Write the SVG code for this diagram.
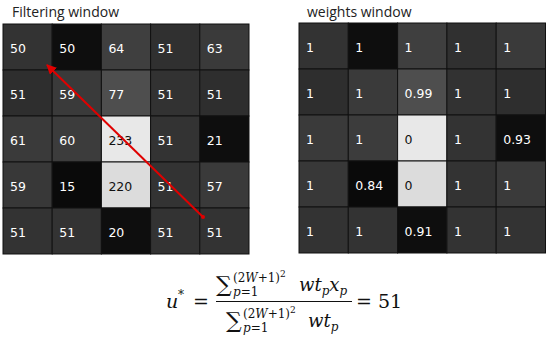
<svg xmlns="http://www.w3.org/2000/svg" width="550" height="342" viewBox="0 0 550 342">
<defs>
<style>
.c{stroke:#111;stroke-width:1}
.t{font-family:"DejaVu Sans",sans-serif;font-size:12.5px;fill:#fff}
.d{fill:#111}
.title{font-family:"Open Sans","Noto Sans",sans-serif;font-size:14px;fill:#222}
.m{font-family:"DejaVu Serif","Liberation Serif",serif;fill:#111}
.i{font-style:italic}
</style>
<marker id="ah" viewBox="0 0 10 10" refX="9" refY="5" markerWidth="5" markerHeight="5" orient="auto"><path d="M0,0 L10,5 L0,10 z" fill="#e00000"/></marker>
</defs>
<rect width="550" height="342" fill="#fff"/>
<text class="title" x="12" y="17">Filtering window</text>
<text class="title" x="307" y="17">weights window</text>

<g id="filtering-window">
<rect class="c" x="3" y="24" width="49.2" height="46" fill="#333"/>
<rect class="c" x="52.2" y="24" width="49.2" height="46" fill="#0e0e0e"/>
<rect class="c" x="101.4" y="24" width="49.2" height="46" fill="#3f3f3f"/>
<rect class="c" x="150.6" y="24" width="49.2" height="46" fill="#303030"/>
<rect class="c" x="199.8" y="24" width="49.2" height="46" fill="#3a3a3a"/>
<rect class="c" x="3" y="70" width="49.2" height="46" fill="#2e2e2e"/>
<rect class="c" x="52.2" y="70" width="49.2" height="46" fill="#3a3a3a"/>
<rect class="c" x="101.4" y="70" width="49.2" height="46" fill="#4e4e4e"/>
<rect class="c" x="150.6" y="70" width="49.2" height="46" fill="#323232"/>
<rect class="c" x="199.8" y="70" width="49.2" height="46" fill="#2e2e2e"/>
<rect class="c" x="3" y="116" width="49.2" height="46" fill="#3a3a3a"/>
<rect class="c" x="52.2" y="116" width="49.2" height="46" fill="#3c3c3c"/>
<rect class="c" x="101.4" y="116" width="49.2" height="46" fill="#e8e8e8"/>
<rect class="c" x="150.6" y="116" width="49.2" height="46" fill="#333"/>
<rect class="c" x="199.8" y="116" width="49.2" height="46" fill="#0e0e0e"/>
<rect class="c" x="3" y="162" width="49.2" height="46" fill="#383838"/>
<rect class="c" x="52.2" y="162" width="49.2" height="46" fill="#0a0a0a"/>
<rect class="c" x="101.4" y="162" width="49.2" height="46" fill="#dcdcdc"/>
<rect class="c" x="150.6" y="162" width="49.2" height="46" fill="#333"/>
<rect class="c" x="199.8" y="162" width="49.2" height="46" fill="#3a3a3a"/>
<rect class="c" x="3" y="208" width="49.2" height="46" fill="#333"/>
<rect class="c" x="52.2" y="208" width="49.2" height="46" fill="#333"/>
<rect class="c" x="101.4" y="208" width="49.2" height="46" fill="#0e0e0e"/>
<rect class="c" x="150.6" y="208" width="49.2" height="46" fill="#333"/>
<rect class="c" x="199.8" y="208" width="49.2" height="46" fill="#333"/>
<text class="t" x="10" y="52.5">50</text>
<text class="t" x="59.2" y="52.5">50</text>
<text class="t" x="108.4" y="52.5">64</text>
<text class="t" x="157.6" y="52.5">51</text>
<text class="t" x="206.8" y="52.5">63</text>
<text class="t" x="10" y="98.5">51</text>
<text class="t" x="59.2" y="98.5">59</text>
<text class="t" x="108.4" y="98.5">77</text>
<text class="t" x="157.6" y="98.5">51</text>
<text class="t" x="206.8" y="98.5">51</text>
<text class="t" x="10" y="144.5">61</text>
<text class="t" x="59.2" y="144.5">60</text>
<text class="t d" x="108.4" y="144.5">233</text>
<text class="t" x="157.6" y="144.5">51</text>
<text class="t" x="206.8" y="144.5">21</text>
<text class="t" x="10" y="190.5">59</text>
<text class="t" x="59.2" y="190.5">15</text>
<text class="t d" x="108.4" y="190.5">220</text>
<text class="t" x="157.6" y="190.5">51</text>
<text class="t" x="206.8" y="190.5">57</text>
<text class="t" x="10" y="236.5">51</text>
<text class="t" x="59.2" y="236.5">51</text>
<text class="t" x="108.4" y="236.5">20</text>
<text class="t" x="157.6" y="236.5">51</text>
<text class="t" x="206.8" y="236.5">51</text>
</g>

<g id="weights-window">
<rect class="c" x="299" y="23" width="49.3" height="46" fill="#333"/>
<rect class="c" x="348.3" y="23" width="49.3" height="46" fill="#0e0e0e"/>
<rect class="c" x="397.6" y="23" width="49.3" height="46" fill="#3f3f3f"/>
<rect class="c" x="446.9" y="23" width="49.3" height="46" fill="#303030"/>
<rect class="c" x="496.2" y="23" width="49.3" height="46" fill="#3a3a3a"/>
<rect class="c" x="299" y="69" width="49.3" height="46" fill="#2e2e2e"/>
<rect class="c" x="348.3" y="69" width="49.3" height="46" fill="#3a3a3a"/>
<rect class="c" x="397.6" y="69" width="49.3" height="46" fill="#4e4e4e"/>
<rect class="c" x="446.9" y="69" width="49.3" height="46" fill="#323232"/>
<rect class="c" x="496.2" y="69" width="49.3" height="46" fill="#2e2e2e"/>
<rect class="c" x="299" y="115" width="49.3" height="46" fill="#3a3a3a"/>
<rect class="c" x="348.3" y="115" width="49.3" height="46" fill="#3c3c3c"/>
<rect class="c" x="397.6" y="115" width="49.3" height="46" fill="#e8e8e8"/>
<rect class="c" x="446.9" y="115" width="49.3" height="46" fill="#333"/>
<rect class="c" x="496.2" y="115" width="49.3" height="46" fill="#0e0e0e"/>
<rect class="c" x="299" y="161" width="49.3" height="46" fill="#383838"/>
<rect class="c" x="348.3" y="161" width="49.3" height="46" fill="#0a0a0a"/>
<rect class="c" x="397.6" y="161" width="49.3" height="46" fill="#dcdcdc"/>
<rect class="c" x="446.9" y="161" width="49.3" height="46" fill="#333"/>
<rect class="c" x="496.2" y="161" width="49.3" height="46" fill="#3a3a3a"/>
<rect class="c" x="299" y="207" width="49.3" height="46" fill="#333"/>
<rect class="c" x="348.3" y="207" width="49.3" height="46" fill="#333"/>
<rect class="c" x="397.6" y="207" width="49.3" height="46" fill="#0e0e0e"/>
<rect class="c" x="446.9" y="207" width="49.3" height="46" fill="#333"/>
<rect class="c" x="496.2" y="207" width="49.3" height="46" fill="#333"/>
<text class="t" x="306" y="51.5">1</text>
<text class="t" x="355.3" y="51.5">1</text>
<text class="t" x="404.6" y="51.5">1</text>
<text class="t" x="453.9" y="51.5">1</text>
<text class="t" x="503.2" y="51.5">1</text>
<text class="t" x="306" y="97.5">1</text>
<text class="t" x="355.3" y="97.5">1</text>
<text class="t" x="404.6" y="97.5">0.99</text>
<text class="t" x="453.9" y="97.5">1</text>
<text class="t" x="503.2" y="97.5">1</text>
<text class="t" x="306" y="143.5">1</text>
<text class="t" x="355.3" y="143.5">1</text>
<text class="t d" x="404.6" y="143.5">0</text>
<text class="t" x="453.9" y="143.5">1</text>
<text class="t" x="503.2" y="143.5">0.93</text>
<text class="t" x="306" y="189.5">1</text>
<text class="t" x="355.3" y="189.5">0.84</text>
<text class="t d" x="404.6" y="189.5">0</text>
<text class="t" x="453.9" y="189.5">1</text>
<text class="t" x="503.2" y="189.5">1</text>
<text class="t" x="306" y="235.5">1</text>
<text class="t" x="355.3" y="235.5">1</text>
<text class="t" x="404.6" y="235.5">0.91</text>
<text class="t" x="453.9" y="235.5">1</text>
<text class="t" x="503.2" y="235.5">1</text>
</g>

<g id="connectors">
<line x1="203" y1="217" x2="47" y2="65" stroke="#e00000" stroke-width="2" marker-end="url(#ah)"/>
<circle cx="203" cy="217" r="2" fill="#e00000"/>
</g>

<g id="equation">
<text class="m i" x="166" y="308" font-size="19">u</text>
<text class="m" x="178" y="299" font-size="12">*</text>
<text class="m" x="193" y="308" font-size="19">=</text>
<line x1="216" y1="301.5" x2="352" y2="301.5" stroke="#111" stroke-width="1"/>
<text class="m" x="216" y="292" font-size="22">∑</text>
<text class="m" x="233" y="282" font-size="12"><tspan>(2</tspan><tspan class="i">W</tspan><tspan>+1)</tspan><tspan font-size="9" dy="-5">2</tspan></text>
<text class="m" x="233" y="296" font-size="12"><tspan class="i">p</tspan>=1</text>
<text class="m i" x="299" y="291" font-size="18">wt<tspan font-size="12" dy="4">p</tspan><tspan dy="-4">x</tspan><tspan font-size="12" dy="4">p</tspan></text>
<text class="m" x="226" y="328" font-size="22">∑</text>
<text class="m" x="243" y="318" font-size="12"><tspan>(2</tspan><tspan class="i">W</tspan><tspan>+1)</tspan><tspan font-size="9" dy="-5">2</tspan></text>
<text class="m" x="243" y="332" font-size="12"><tspan class="i">p</tspan>=1</text>
<text class="m i" x="308" y="327" font-size="18">wt<tspan font-size="12" dy="4">p</tspan></text>
<text class="m" x="356" y="308" font-size="19">= 51</text>
</g>
</svg>
